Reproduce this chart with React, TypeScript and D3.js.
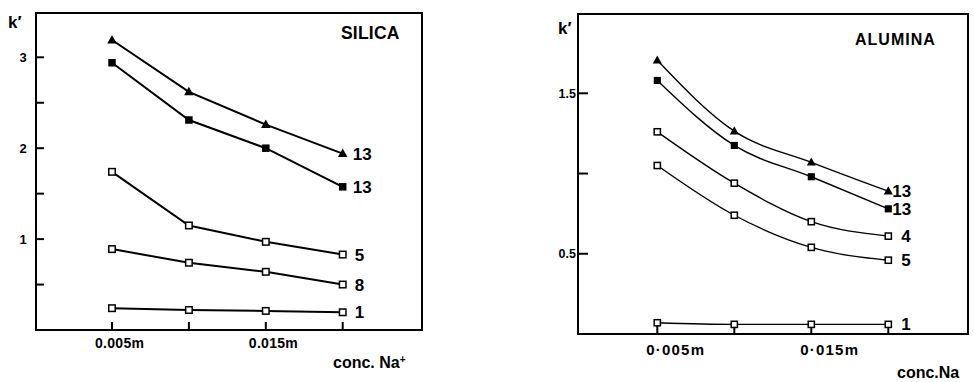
import React from "react";
import * as d3 from "d3";

// Sodium concentration (M) at which k' was measured
const concentrations = [0.005, 0.01, 0.015, 0.02];

// Silica column: capacity factor k' per solute
const silicaTriangle13 = [3.19, 2.62, 2.26, 1.94];
const silicaSquare13 = [2.94, 2.31, 2.0, 1.575];
const silicaOpen5 = [1.74, 1.15, 0.97, 0.83];
const silicaOpen8 = [0.89, 0.74, 0.64, 0.5];
const silicaOpen1 = [0.24, 0.22, 0.21, 0.195];

// Alumina column: capacity factor k' per solute
const aluminaTriangle13 = [1.706, 1.264, 1.07, 0.89];
const aluminaSquare13 = [1.58, 1.175, 0.98, 0.78];
const aluminaOpen4 = [1.26, 0.94, 0.7, 0.61];
const aluminaOpen5 = [1.05, 0.74, 0.54, 0.46];
const aluminaOpen1 = [0.07, 0.06, 0.06, 0.06];

const silicaYTicks = [0.5, 1, 1.5, 2, 2.5, 3];
const silicaYLabels = ["", "1", "", "2", "", "3"];
const aluminaYTicks = [0.5, 1, 1.5];
const aluminaYLabels = ["0.5", "", "1.5"];

const silicaXLabels = ["0.005m", "", "0.015m", ""];
const aluminaXLabels = ["0·005m", "", "0·015m", ""];

type Marker = "triangle" | "square" | "open";

interface Series {
  values: number[];
  marker: Marker;
  label: string;
}

const silicaSeries: Series[] = [
  { values: silicaTriangle13, marker: "triangle", label: "13" },
  { values: silicaSquare13, marker: "square", label: "13" },
  { values: silicaOpen5, marker: "open", label: "5" },
  { values: silicaOpen8, marker: "open", label: "8" },
  { values: silicaOpen1, marker: "open", label: "1" },
];

const aluminaSeries: Series[] = [
  { values: aluminaTriangle13, marker: "triangle", label: "13" },
  { values: aluminaSquare13, marker: "square", label: "13" },
  { values: aluminaOpen4, marker: "open", label: "4" },
  { values: aluminaOpen5, marker: "open", label: "5" },
  { values: aluminaOpen1, marker: "open", label: "1" },
];

const FONT = "'Liberation Sans', Arial, sans-serif";

interface PanelProps {
  frame: { left: number; right: number; top: number; bottom: number };
  xRange: [number, number];
  yMax: number;
  yTop: number;
  yTicks: number[];
  yLabels: string[];
  xLabels: string[];
  series: Series[];
  curved: boolean;
  lineWidth: number;
  tickLen: number;
  labelDx: (m: Marker) => number;
  yLabelX: number;
  yLabelAnchor: "middle" | "end";
  yLabelSize: number;
  xLabelY: number;
  xLabelSize: number;
  xLabelDx: number;
  xLabelSpacing: number;
  title: { text: string; x: number; y: number; size: number; spacing: number };
  kPos: { x: number; y: number };
  concLabel: { text: React.ReactNode; x: number; y: number; size: number };
  markerScale: number;
}

function MarkerShape({ kind, x, y, s }: { kind: Marker; x: number; y: number; s: number }) {
  if (kind === "triangle") {
    const w = 9.5 * s;
    const h = 8.5 * s;
    const pts = [
      [x, y - h * 0.6],
      [x - w / 2, y + h * 0.4],
      [x + w / 2, y + h * 0.4],
    ];
    return <polygon points={pts.map((p) => p.join(",")).join(" ")} fill="#000" />;
  }
  if (kind === "square") {
    const a = 7.5 * s;
    return <rect x={x - a / 2} y={y - a / 2} width={a} height={a} fill="#000" />;
  }
  const a = 6.5 * s;
  return (
    <rect x={x - a / 2} y={y - a / 2} width={a} height={a} fill="#fff" stroke="#000" strokeWidth={1.5} />
  );
}

function Panel(p: PanelProps) {
  const x = d3.scaleLinear().domain([concentrations[0], concentrations[3]]).range(p.xRange);
  const y = d3.scaleLinear().domain([0, p.yMax]).range([p.frame.bottom, p.yTop]);
  const line = d3
    .line<number>()
    .x((_, i) => x(concentrations[i]))
    .y((v) => y(v))
    .curve(p.curved ? d3.curveMonotoneX : d3.curveLinear);
  const { left, right, top, bottom } = p.frame;

  return (
    <g fontFamily={FONT} fontWeight="bold" fill="#000">
      <rect
        x={left}
        y={top}
        width={right - left}
        height={bottom - top}
        fill="none"
        stroke="#000"
        strokeWidth={2}
      />
      {p.yTicks.map((t, i) => (
        <g key={"y" + t}>
          <line x1={left} x2={left + p.tickLen} y1={y(t)} y2={y(t)} stroke="#000" strokeWidth={2} />
          {p.yLabels[i] && (
            <text
              x={p.yLabelX}
              y={y(t)}
              dy="0.35em"
              textAnchor={p.yLabelAnchor}
              fontSize={p.yLabelSize}
            >
              {p.yLabels[i]}
            </text>
          )}
        </g>
      ))}
      {concentrations.map((c, i) => (
        <g key={"x" + c}>
          <line x1={x(c)} x2={x(c)} y1={bottom} y2={bottom - p.tickLen} stroke="#000" strokeWidth={2} />
          {p.xLabels[i] && (
            <text
              x={x(c) + p.xLabelDx}
              y={p.xLabelY}
              dy="0.35em"
              fontSize={p.xLabelSize}
              letterSpacing={p.xLabelSpacing}
            >
              {p.xLabels[i]}
            </text>
          )}
        </g>
      ))}
      {p.series.map((s, si) => (
        <g key={"s" + si}>
          <path d={line(s.values) ?? ""} fill="none" stroke="#000" strokeWidth={p.lineWidth} />
          {s.values.map((v, i) => (
            <MarkerShape key={i} kind={s.marker} x={x(concentrations[i])} y={y(v)} s={p.markerScale} />
          ))}
          <text
            x={x(concentrations[3]) + p.labelDx(s.marker)}
            y={y(s.values[3])}
            dy="0.36em"
            fontSize={17}
          >
            {s.label}
          </text>
        </g>
      ))}
      <text
        x={p.title.x}
        y={p.title.y}
        dy="0.36em"
        fontSize={p.title.size}
        letterSpacing={p.title.spacing}
      >
        {p.title.text}
      </text>
      <text x={p.kPos.x} y={p.kPos.y} dy="0.36em" fontSize={17}>
        k′
      </text>
      <text x={p.concLabel.x} y={p.concLabel.y} dy="0.36em" fontSize={p.concLabel.size}>
        {p.concLabel.text}
      </text>
    </g>
  );
}

export default function App() {
  return (
    <svg
      width={974}
      height={382}
      style={{ position: "absolute", left: 0, top: 0, background: "#fff" }}
    >
      <rect width={974} height={382} fill="#fff" />
      <Panel
        frame={{ left: 36, right: 422, top: 13, bottom: 330 }}
        xRange={[112, 342.7]}
        yMax={3}
        yTop={57.3}
        yTicks={silicaYTicks}
        yLabels={silicaYLabels}
        xLabels={silicaXLabels}
        series={silicaSeries}
        curved={false}
        lineWidth={2}
        tickLen={8}
        labelDx={(m) => (m === "open" ? 12 : 10)}
        yLabelX={23}
        yLabelAnchor="middle"
        yLabelSize={13}
        xLabelY={343.5}
        xLabelSize={14}
        xLabelDx={-17}
        xLabelSpacing={0.3}
        title={{ text: "SILICA", x: 341, y: 33, size: 17.5, spacing: 0.2 }}
        kPos={{ x: 8, y: 22 }}
        concLabel={{
          text: (
            <>
              conc. Na<tspan dy="-0.5em" fontSize={10}>+</tspan>
            </>
          ),
          x: 333,
          y: 362,
          size: 16,
        }}
        markerScale={1}
      />
      <Panel
        frame={{ left: 578, right: 968, top: 14, bottom: 334 }}
        xRange={[657.3, 888.3]}
        yMax={1.5}
        yTop={93.3}
        yTicks={aluminaYTicks}
        yLabels={aluminaYLabels}
        xLabels={aluminaXLabels}
        series={aluminaSeries}
        curved={true}
        lineWidth={1.4}
        tickLen={10}
        labelDx={(m) => (m === "open" ? 13 : 4)}
        yLabelX={576}
        yLabelAnchor="end"
        yLabelSize={12.5}
        xLabelY={349.5}
        xLabelSize={15}
        xLabelDx={-11}
        xLabelSpacing={1.2}
        title={{ text: "ALUMINA", x: 855, y: 39, size: 16, spacing: 1 }}
        kPos={{ x: 558, y: 28 }}
        concLabel={{ text: "conc.Na", x: 897, y: 372.5, size: 16 }}
        markerScale={0.95}
      />
    </svg>
  );
}
